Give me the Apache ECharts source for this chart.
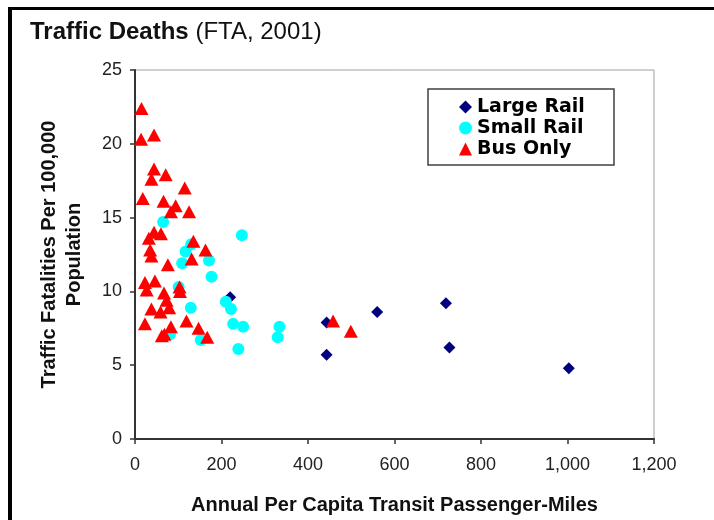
<!DOCTYPE html>
<html><head><meta charset="utf-8">
<script src="https://cdn.jsdelivr.net/npm/echarts@6/dist/echarts.min.js"></script>
<style>html,body{margin:0;padding:0;background:#fff}#c{width:714px;height:520px}</style>
</head><body><div id="c"></div>
<script>
// ---- data ----
const seriesNames = ['Large Rail', 'Small Rail', 'Bus Only'];
const largeRail = [[220,9.6],[443,7.9],[443,5.7],[560,8.6],[719,9.2],[727,6.2],[1003,4.8]];
const smallRail = [[65,14.7],[247,13.8],[130,13.2],[117,12.7],[109,11.9],[171,12.1],[177,11.0],[101,10.3],[129,8.9],[210,9.3],[222,8.8],[227,7.8],[250,7.6],[334,7.6],[330,6.9],[239,6.1],[152,6.7],[81,7.1]];
const busOnly = [[15,22.4],[14,20.3],[44,20.6],[44,18.3],[71,17.9],[38,17.6],[115,17.0],[18,16.3],[66,16.1],[94,15.8],[83,15.4],[125,15.4],[44,14.0],[60,13.9],[32,13.6],[135,13.4],[35,12.8],[38,12.4],[163,12.8],[131,12.2],[76,11.8],[23,10.6],[46,10.7],[27,10.1],[67,9.9],[103,10.3],[104,10.0],[73,9.4],[38,8.8],[59,8.6],[79,8.9],[23,7.8],[83,7.6],[119,8.0],[147,7.5],[167,6.9],[62,7.0],[68,7.1],[458,8.0],[499,7.3]];
const xAxisRange = [0, 1200, 200];
const yAxisRange = [0, 25, 5];
const titleMain = 'Traffic Deaths';
const titleSub = ' (FTA, 2001)';
const xName = 'Annual Per Capita Transit Passenger-Miles';
const yName = 'Traffic Fatalities Per 100,000\nPopulation';

const chart = echarts.init(document.getElementById('c'), null, {renderer: 'canvas'});
const font = 'Liberation Sans';
const fmt = v => String(v).replace(/\B(?=(\d{3})+(?!\d))/g, ',');
chart.setOption({
  animation: false,
  backgroundColor: '#fff',
  title: {
    text: '{b|' + titleMain + '}{r|' + titleSub + '}',
    left: 25, top: 15,
    textStyle: {
      rich: {
        b: {fontFamily: font, fontWeight: 'bold', fontSize: 24, color: '#111'},
        r: {fontFamily: font, fontWeight: 'normal', fontSize: 24, color: '#111'}
      }
    }
  },
  grid: {left: 135, right: 60, top: 70, bottom: 80, show: true, borderColor: '#a0a0a0', borderWidth: 1},
  legend: {
    orient: 'vertical', left: 459, top: 97,
    itemWidth: 13, itemHeight: 13, itemGap: 1, padding: 0,
    textStyle: {fontFamily: 'DejaVu Sans', fontWeight: 'bold', fontSize: 19, color: '#000', lineHeight: 20},
    data: seriesNames
  },
  xAxis: {
    type: 'value', min: xAxisRange[0], max: xAxisRange[1], interval: xAxisRange[2],
    name: xName, nameLocation: 'middle', nameGap: 56,
    nameTextStyle: {fontFamily: font, fontWeight: 'bold', fontSize: 20, color: '#111'},
    axisLine: {show: true, lineStyle: {color: '#333', width: 2}},
    axisTick: {show: true, inside: false, length: 5, lineStyle: {color: '#333', width: 1.5}},
    axisLabel: {fontFamily: font, fontSize: 18, color: '#222', margin: 17, formatter: fmt},
    splitLine: {show: false}
  },
  yAxis: {
    type: 'value', min: yAxisRange[0], max: yAxisRange[1], interval: yAxisRange[2],
    name: yName, nameLocation: 'middle', nameGap: 48, nameRotate: 90,
    nameTextStyle: {fontFamily: font, fontWeight: 'bold', fontSize: 20, color: '#111', lineHeight: 25},
    axisLine: {show: true, lineStyle: {color: '#333', width: 2}},
    axisTick: {show: true, inside: false, length: 5, lineStyle: {color: '#333', width: 1.5}},
    axisLabel: {fontFamily: font, fontSize: 18, color: '#222', margin: 13},
    splitLine: {show: false}
  },
  graphic: [
    {type: 'rect', shape: {x: 428, y: 89, width: 186, height: 76}, style: {fill: '#fff', stroke: '#404040', lineWidth: 1.5}, z: 3},
    {type: 'rect', shape: {x: 8, y: 7, width: 4, height: 513}, style: {fill: '#000'}, z: 10},
    {type: 'rect', shape: {x: 8, y: 7, width: 706, height: 3}, style: {fill: '#000'}, z: 10}
  ],
  series: [
    {name: seriesNames[0], type: 'scatter', symbol: 'diamond', symbolSize: 12, data: largeRail, itemStyle: {color: '#000080', opacity: 1}, z: 2},
    {name: seriesNames[1], type: 'scatter', symbol: 'circle', symbolSize: 12, data: smallRail, itemStyle: {color: '#00ffff', opacity: 1}, z: 2},
    {name: seriesNames[2], type: 'scatter', symbol: 'triangle', symbolSize: [14, 13], data: busOnly, itemStyle: {color: '#ff0000', opacity: 1}, z: 2}
  ]
});
</script></body></html>
